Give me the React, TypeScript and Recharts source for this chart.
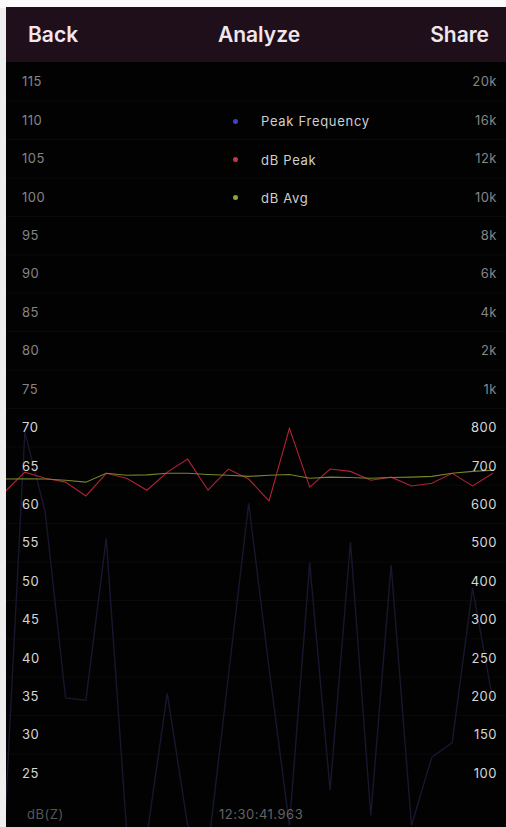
import React from 'react';
import { LineChart, Line, XAxis, YAxis, CartesianGrid, Legend } from 'recharts';

// sample numbers along the time axis
const samples = [1, 2, 3, 4, 5, 6, 7, 8, 9, 10, 11, 12, 13, 14, 15, 16, 17, 18, 19, 20, 21, 22, 23, 24, 25];

// Peak frequency (Hz)
const peakFrequency = [26, 788, 581, 198, 195, 512, 26, 19, 204, 32, 0, 226, 603, 237, 32, 447, 78, 502, 45, 442, 32, 121, 140, 382, 195];

// dB Peak
const dbPeak = [61.6, 64.2, 63.4, 62.9, 61.1, 64.05, 63.4, 61.85, 64.2, 65.9, 61.85, 64.6, 63.3, 60.45, 69.9, 62.25, 64.6, 64.3, 63.15, 63.55, 62.4, 62.75, 64.05, 62.4, 64.05];

// dB Avg
const dbAvg = [63.3, 63.35, 63.3, 63.15, 62.9, 64.05, 63.8, 63.85, 64.05, 64.05, 63.9, 63.8, 63.65, 63.8, 63.9, 63.4, 63.55, 63.5, 63.4, 63.5, 63.55, 63.65, 64.05, 64.3, 64.45];

// left axis ticks (dB)
const dbTicks = [25, 30, 35, 40, 45, 50, 55, 60, 65, 70, 75, 80, 85, 90, 95, 100, 105, 110, 115];

// right axis ticks (frequency)
const freqTickHz = [100, 150, 200, 250, 300, 400, 500, 600, 700, 800, 1000, 2000, 4000, 6000, 8000, 10000, 12000, 16000, 20000];
const freqTickLabels = ['100', '150', '200', '250', '300', '400', '500', '600', '700', '800', '1k', '2k', '4k', '6k', '8k', '10k', '12k', '16k', '20k'];

const legendItems = [
  { key: 'peakFreq', name: 'Peak Frequency', dot: '#4040d0' },
  { key: 'dbPeak', name: 'dB Peak', dot: '#d03048' },
  { key: 'dbAvg', name: 'dB Avg', dot: '#8aa832' },
];

// position of a frequency on the app's stepped frequency axis
function freqToIndex(f: number): number {
  if (f <= freqTickHz[0]) return (f - freqTickHz[0]) / (freqTickHz[1] - freqTickHz[0]);
  for (let i = 0; i < freqTickHz.length - 1; i++) {
    const a = freqTickHz[i];
    const b = freqTickHz[i + 1];
    if (f <= b) return i + (f - a) / (b - a);
  }
  return freqTickHz.length - 1;
}

const data = samples.map((s, i) => ({
  sample: s,
  peakFreq: freqToIndex(peakFrequency[i]),
  dbPeak: dbPeak[i],
  dbAvg: dbAvg[i],
}));

const freqTickIdx = freqTickHz.map((_, i) => i);
const gridValues = dbTicks.slice(0, -1).map((t) => t + 2.5);

const FONT = 'Inter, "Open Sans", Roboto, sans-serif';
const DIM = '#858585';
const BRIGHT = '#d6d6d6';

const LeftTick = (props: any) => {
  const { x, y, payload } = props;
  const v = payload.value;
  return (
    <text x={x} y={y} dy={4.5} textAnchor="start" fill={v >= 75 ? DIM : BRIGHT} fontSize={13} fontFamily={FONT} letterSpacing={0.5}>
      {v}
    </text>
  );
};

const RightTick = (props: any) => {
  const { x, y, payload } = props;
  const i = payload.value;
  return (
    <text x={x} y={y} dy={4.5} textAnchor="end" fill={i >= 10 ? DIM : BRIGHT} fontSize={13} fontFamily={FONT} letterSpacing={0.5}>
      {freqTickLabels[i]}
    </text>
  );
};

const renderLegend = (props: any) => {
  const payload = props.payload || [];
  return (
    <div style={{ fontFamily: FONT }}>
      {legendItems.map((item) => {
        const entry = payload.find((p: any) => p.dataKey === item.key);
        return (
          <div key={item.key} style={{ height: 38.4, display: 'flex', alignItems: 'center' }}>
            <span style={{ display: 'inline-block', width: 5, height: 5, borderRadius: 3, background: item.dot, marginLeft: 8, marginRight: 23 }} />
            <span style={{ color: '#cfcfcf', fontSize: 13, letterSpacing: 0.7 }}>{entry ? entry.value : item.name}</span>
          </div>
        );
      })}
    </div>
  );
};

export default function App() {
  return (
    <div style={{ position: 'fixed', left: 0, top: 0, width: 506, height: 827, background: '#eeeeee', overflow: 'hidden' }}>
      <div style={{ position: 'absolute', left: 0, top: 0, width: 506, height: 8, background: '#fbfbfb' }} />
      <div style={{ position: 'absolute', left: 6, top: 7, width: 500, height: 55, background: '#1f0f1a', fontFamily: FONT, color: '#f2e6ee', fontWeight: 600, fontSize: 21, lineHeight: '24px' }}>
        <span style={{ position: 'absolute', left: 22, top: 16 }}>Back</span>
        <span style={{ position: 'absolute', left: 0, width: 506, textAlign: 'center', top: 16 }}>Analyze</span>
        <span style={{ position: 'absolute', right: 17, top: 16 }}>Share</span>
      </div>
      <div style={{ position: 'absolute', left: 6, top: 62, width: 500, height: 765, background: '#020202' }}>
        <LineChart width={500} height={765} data={data} margin={{ top: 0, right: 0, bottom: 0, left: 0 }}>
          <CartesianGrid yAxisId="db" horizontal vertical={false} horizontalValues={gridValues} stroke="#0b0b0b" />
          <XAxis dataKey="sample" type="number" domain={[1.074, 25.644]} allowDataOverflow hide />
          <YAxis yAxisId="db" orientation="left" mirror domain={[18, 117.6]} ticks={dbTicks} interval={0} allowDataOverflow tickLine={false} axisLine={false} tickSize={0} tickMargin={16} tick={<LeftTick />} />
          <YAxis yAxisId="freq" orientation="right" mirror domain={[-1.4, 18.52]} ticks={freqTickIdx} interval={0} allowDataOverflow tickLine={false} axisLine={false} tickSize={0} tickMargin={9} tick={<RightTick />} />
          <Legend layout="vertical" align="center" verticalAlign="middle" content={renderLegend} wrapperStyle={{ left: 219, top: 40, width: 220 }} />
          <Line yAxisId="freq" type="linear" dataKey="peakFreq" name="Peak Frequency" stroke="#17172f" strokeWidth={1.4} dot={false} isAnimationActive={false} />
          <Line yAxisId="db" type="linear" dataKey="dbPeak" name="dB Peak" stroke="#b02236" strokeWidth={1.1} dot={false} isAnimationActive={false} />
          <Line yAxisId="db" type="linear" dataKey="dbAvg" name="dB Avg" stroke="#76862a" strokeWidth={1.1} dot={false} isAnimationActive={false} />
        </LineChart>
        <div style={{ position: 'absolute', left: 21, top: 744, fontFamily: FONT, fontSize: 13, color: '#575757', letterSpacing: 0.5 }}>dB(Z)</div>
        <div style={{ position: 'absolute', left: 213, top: 744, fontFamily: FONT, fontSize: 13, color: '#636363', letterSpacing: 0.5 }}>12:30:41.963</div>
      </div>
    </div>
  );
}
